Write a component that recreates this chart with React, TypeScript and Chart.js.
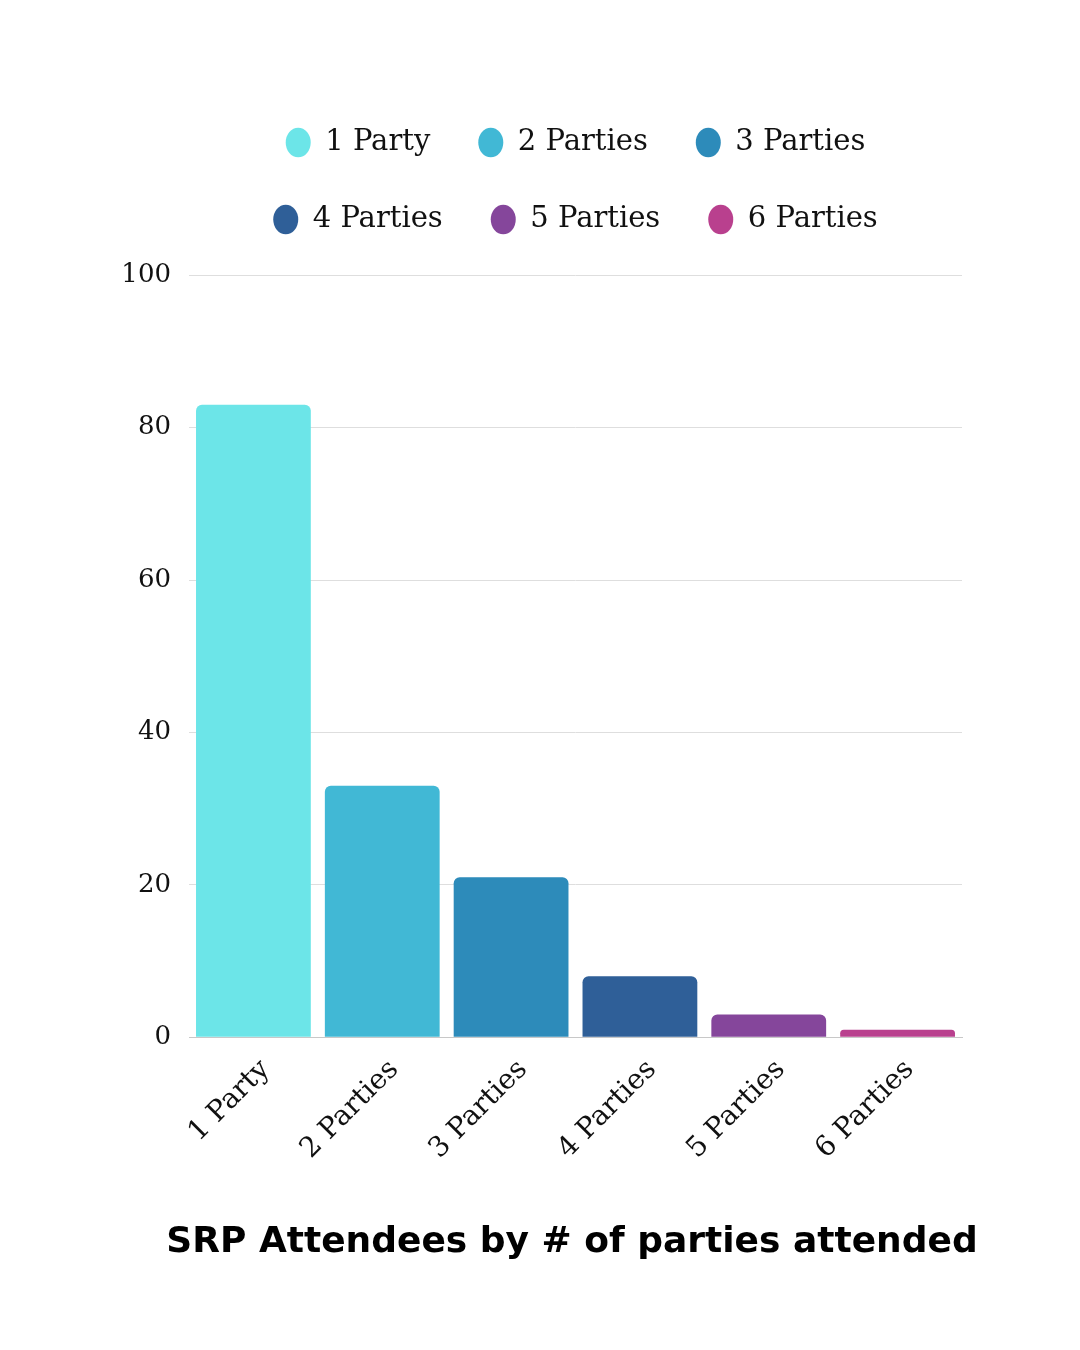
import React, { useEffect, useRef } from "react";
import { Chart, registerables } from "chart.js";

Chart.register(...registerables);

const categories = ["1 Party", "2 Parties", "3 Parties", "4 Parties", "5 Parties", "6 Parties"];
const attendees = [83, 33, 21, 8, 3, 1];
const barColors = ["#6CE5E8", "#41B8D5", "#2D8BBA", "#2F5F98", "#85469B", "#B9408E"];
const titleText = "SRP Attendees by # of parties attended";

const SERIF = "'DejaVu Serif', serif";

export default function App() {
  const ref = useRef<HTMLCanvasElement | null>(null);

  useEffect(() => {
    document.body.style.margin = "0";
    const canvas = ref.current;
    if (!canvas) return;
    const chart = new Chart(canvas, {
      type: "bar",
      data: {
        labels: categories,
        datasets: [
          {
            label: "Attendees",
            data: attendees,
            backgroundColor: barColors,
            borderRadius: 6,
            borderSkipped: "bottom",
            barPercentage: 0.891,
            categoryPercentage: 1,
          },
        ],
      },
      options: {
        animation: false,
        responsive: true,
        maintainAspectRatio: false,
        devicePixelRatio: 1,
        layout: { padding: { top: 80, left: 98, right: 34, bottom: 54 } },
        plugins: {
          tooltip: { enabled: false },
          legend: {
            position: "top",
            fullSize: false,
            labels: {
              usePointStyle: true,
              pointStyle: "circle",
              pointStyleWidth: 25,
              boxHeight: 21,
              padding: 48,
              color: "#111",
              font: { family: SERIF, size: 29 },
              generateLabels: () =>
                categories.map((c, i) => ({
                  text: c,
                  fillStyle: barColors[i],
                  strokeStyle: barColors[i],
                  lineWidth: 0,
                  pointStyle: "circle",
                  hidden: false,
                  index: i,
                  datasetIndex: 0,
                  fontColor: "#111",
                })),
            },
          },
          subtitle: {
            display: true,
            position: "top",
            weight: 500,
            fullSize: false,
            text: " ",
            font: { size: 1 },
            padding: { top: 30, bottom: 0 },
          },
          title: {
            display: true,
            position: "bottom",
            fullSize: true,
            text: titleText,
            color: "#000",
            font: { family: "'DejaVu Sans', sans-serif", size: 36, weight: "bold" },
            padding: { top: 47, bottom: 32 },
          },
        },
        scales: {
          y: {
            min: 0,
            max: 100,
            afterFit: (s: any) => {
              s.width = 91;
            },
            ticks: {
              stepSize: 20,
              color: "#111",
              padding: 18,
              font: { family: SERIF, size: 26 },
            },
            grid: { color: "#dedede", drawTicks: false, lineWidth: 1 },
            border: { display: false },
          },
          y2: {
            position: "right",
            display: true,
            min: 0,
            max: 100,
            afterFit: (s: any) => {
              s.width = 84;
            },
            ticks: { display: false },
            grid: { display: false, drawTicks: false },
            border: { display: false },
          },
          x: {
            ticks: {
              color: "#111",
              minRotation: 45,
              maxRotation: 45,
              labelOffset: 12,
              padding: 8,
              font: { family: SERIF, size: 28 },
            },
            grid: { display: false },
            border: { display: true, color: "#c8c8c8" },
          },
        },
      },
    });
    return () => chart.destroy();
  }, []);

  return (
    <div style={{ width: 1080, height: 1350, position: "relative", background: "#fff" }}>
      <canvas ref={ref} />
    </div>
  );
}
